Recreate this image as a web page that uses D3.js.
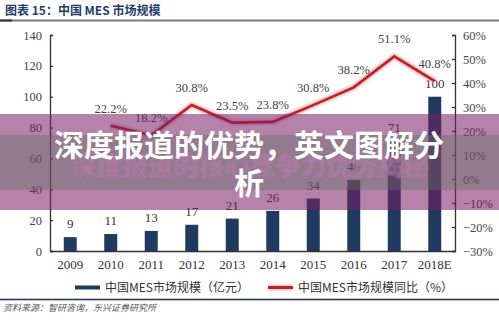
<!DOCTYPE html>
<html><head><meta charset="utf-8">
<script src="https://cdn.jsdelivr.net/npm/d3@7"></script>
<style>
html,body{margin:0;padding:0;background:#fff;}
svg{display:block;}
</style>
</head><body>
<svg id="c" width="499" height="325"></svg>
<script>
const years = ["2009","2010","2011","2012","2013","2014","2015","2016","2017","2018E"];
const marketSize = [9,11,13,17,21,26,34,46,71,100];
const growth = [null,22.2,18.2,30.8,23.5,23.8,30.8,38.2,51.1,40.8];
const leftTicks = [0,20,40,60,80,100,120,140];
const rightTicks = [-30,-20,-10,0,10,20,30,40,50,60];
const titleText = "图表 15：中国 MES 市场规模";
const legendLabels = ["中国MES市场规模（亿元）","中国MES市场规模同比（%）"];
const sourceText = "资料来源：智研咨询，东兴证券研究所";
const bannerLine1 = "深度报道的优势，英文图解分";
const bannerLine2 = "析";
const ghostText = "深度报道的核心竞争力优势揭秘";

const svg = d3.select("#c");
const W = 499;
const serif = "'Liberation Serif','Times New Roman',serif";
const cjk = "'Noto Sans CJK SC','Noto Sans',sans-serif";
const barColor = "#1f3a60";
const lineColor = "#b8222b";

const x = d3.scaleBand().domain(years).range([50,455]).paddingInner(0.68).paddingOuter(0.34);
const yL = d3.scaleLinear().domain([0,140]).range([251,35]);
const yR = d3.scaleLinear().domain([-30,60]).range([251,35]);

const defs = svg.append("defs");
defs.append("filter").attr("id","blur").append("feGaussianBlur").attr("stdDeviation",0.8);
defs.append("filter").attr("id","glow").append("feGaussianBlur").attr("stdDeviation",1.2);

// Title
svg.append("text").attr("x",5).attr("y",15).attr("font-family",cjk).attr("font-weight",700)
  .attr("font-size",12).attr("fill","#1f3d6b").text(titleText);
svg.append("line").attr("x1",0).attr("x2",W).attr("y1",20.5).attr("y2",20.5).attr("stroke","#7a7a7a").attr("stroke-width",2);
svg.append("line").attr("x1",0).attr("x2",12).attr("y1",20.5).attr("y2",20.5).attr("stroke","#333").attr("stroke-width",2);

// Bars
svg.append("g").selectAll("rect").data(years).join("rect")
  .attr("x",d=>x(d)).attr("width",x.bandwidth())
  .attr("y",(d,i)=>yL(marketSize[i])).attr("height",(d,i)=>yL(0)-yL(marketSize[i]))
  .attr("fill",barColor);

// Bar labels
svg.append("g").selectAll("text").data(years).join("text")
  .attr("x",d=>x(d)+x.bandwidth()/2).attr("y",(d,i)=>yL(marketSize[i])-9)
  .attr("text-anchor","middle").attr("font-family",serif).attr("font-size",13).attr("fill","#333")
  .text((d,i)=>marketSize[i]);

// Axes
const axL = svg.append("g").attr("transform","translate(50,0)")
  .call(d3.axisRight(yL).tickValues(leftTicks).tickSize(3).tickFormat(d=>d));
axL.selectAll("text").attr("x",-8).attr("text-anchor","end");
const axR = svg.append("g").attr("transform","translate(455,0)")
  .call(d3.axisLeft(yR).tickValues(rightTicks).tickSize(3).tickFormat(d=>(d<0?"−"+(-d):d)+"%"));
axR.selectAll("text").attr("x",8).attr("text-anchor","start");
[axL,axR].forEach(a=>{
  a.select(".domain").attr("stroke","#333").attr("stroke-width",1.3);
  a.selectAll(".tick line").attr("stroke","#333").attr("stroke-width",1.3);
  a.selectAll("text").attr("font-family",serif).attr("font-size",12.5).attr("fill","#444");
});
const axB = svg.append("g").attr("transform","translate(0,251)")
  .call(d3.axisBottom(x).tickSize(0).tickPadding(9));
axB.select(".domain").attr("stroke","#333").attr("stroke-width",1.3);
axB.selectAll("text").attr("font-family",serif).attr("font-size",13).attr("fill","#333");

// Line
const pts = years.map((d,i)=>({k:d,v:growth[i]})).filter(p=>p.v!==null);
const line = d3.line().x(p=>x(p.k)+x.bandwidth()/2).y(p=>yR(p.v));
svg.append("path").datum(pts).attr("d",line).attr("fill","none")
  .attr("stroke","#f0a0a0").attr("stroke-width",6).attr("stroke-opacity",0.7).attr("filter","url(#glow)");
svg.append("path").datum(pts).attr("d",line).attr("fill","none")
  .attr("stroke",lineColor).attr("stroke-width",2.6);
svg.append("g").selectAll("text").data(pts).join("text")
  .attr("x",p=>x(p.k)+x.bandwidth()/2).attr("y",p=>yR(p.v)-13)
  .attr("text-anchor","middle").attr("font-family",serif).attr("font-size",12.5).attr("fill","#444")
  .text(p=>p.v.toFixed(1)+"%");

// Legend
const lg = svg.append("g");
lg.append("rect").attr("x",75).attr("y",285.5).attr("width",25).attr("height",4).attr("fill",barColor);
lg.append("text").attr("x",105).attr("y",292).attr("font-family",cjk).attr("font-size",12).attr("fill","#333").text(legendLabels[0]);
lg.append("rect").attr("x",268).attr("y",284.5).attr("width",25).attr("height",6).attr("fill","#f0a0a0").attr("opacity",0.7).attr("filter","url(#glow)");
lg.append("rect").attr("x",268).attr("y",286).attr("width",25).attr("height",3).attr("fill",lineColor);
lg.append("text").attr("x",298).attr("y",292).attr("font-family",cjk).attr("font-size",12).attr("fill","#333").text(legendLabels[1]);

// Bottom rule + source
svg.append("line").attr("x1",0).attr("x2",W).attr("y1",299.5).attr("y2",299.5).attr("stroke","#1f2f4f").attr("stroke-width",1.5);
svg.append("text").attr("x",3).attr("y",311).attr("font-family",cjk).attr("font-size",9)
  .attr("font-style","italic").attr("fill","#555").text(sourceText);

// Banner overlay
const bn = svg.append("g");
bn.append("rect").attr("x",0).attr("y",114).attr("width",W).attr("height",96).attr("fill","rgb(120,30,100)").attr("opacity",0.55);
bn.append("rect").attr("x",0).attr("y",135).attr("width",W).attr("height",55).attr("fill","rgb(100,110,100)").attr("opacity",0.4);
bn.append("text").attr("x",250).attr("y",175).attr("text-anchor","middle").attr("font-family",cjk)
  .attr("font-weight",700).attr("font-size",25.5).attr("fill","#b27aa9").attr("opacity",0.85)
  .attr("filter","url(#blur)").text(ghostText);
bn.append("text").attr("x",249).attr("y",156).attr("text-anchor","middle").attr("font-family",cjk)
  .attr("font-weight",700).attr("font-size",30).attr("fill","#fff").text(bannerLine1);
bn.append("text").attr("x",249).attr("y",194).attr("text-anchor","middle").attr("font-family",cjk)
  .attr("font-weight",700).attr("font-size",30).attr("fill","#fff").text(bannerLine2);
</script>
</body></html>
